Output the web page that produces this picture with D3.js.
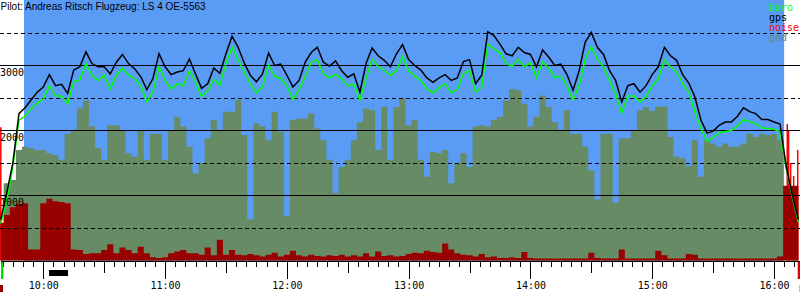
<!DOCTYPE html>
<html><head><meta charset="utf-8">
<script src="https://cdn.jsdelivr.net/npm/d3@7"></script>
<style>body{margin:0;background:#fff}svg{display:block}</style>
</head><body><svg id="c" width="800" height="300"></svg>
<script>
const times = ["09:39","09:42","09:45","09:48","09:51","09:54","09:57",
"10:00","10:03","10:06","10:09","10:12","10:15","10:18","10:21","10:24","10:27","10:30","10:33","10:36","10:39","10:42","10:45","10:48","10:51","10:54","10:57",
"11:00","11:03","11:06","11:09","11:12","11:15","11:18","11:21","11:24","11:27","11:30","11:33","11:36","11:39","11:42","11:45","11:48","11:51","11:54","11:57",
"12:00","12:03","12:06","12:09","12:12","12:15","12:18","12:21","12:24","12:27","12:30","12:33","12:36","12:39","12:42","12:45","12:48","12:51","12:54","12:57",
"13:00","13:03","13:06","13:09","13:12","13:15","13:18","13:21","13:24","13:27","13:30","13:33","13:36","13:39","13:42","13:45","13:48","13:51","13:54","13:57",
"14:00","14:03","14:06","14:09","14:12","14:15","14:18","14:21","14:24","14:27","14:30","14:33","14:36","14:39","14:42","14:45","14:48","14:51","14:54","14:57",
"15:00","15:03","15:06","15:09","15:12","15:15","15:18","15:21","15:24","15:27","15:30","15:33","15:36","15:39","15:42","15:45","15:48","15:51","15:54","15:57",
"16:00","16:03","16:06","16:09","16:12"];
const gps = [630,1040,1500,2260,2350,2470,2590,
2670,2860,2690,2710,2570,2930,2980,3210,3030,2980,2980,2870,3050,3170,3030,2950,2830,2630,2800,3180,
2980,2860,2900,2920,3100,2870,2650,2720,2960,2880,3180,3450,3280,3040,2850,2750,2870,3190,3000,3020,
2850,2670,2770,3050,3200,3280,3050,2990,3070,2920,2820,2870,2590,3030,3270,3150,3080,2980,3180,3320,
3090,3000,2930,2810,2740,2810,2860,2770,2810,3060,3090,2720,2850,3520,3460,3330,3180,3150,3280,3200,
3170,2980,3240,3130,3000,3020,2860,2620,2920,3360,3510,3280,3170,2920,2770,2440,2690,2720,2590,2690,
2860,2980,3280,3150,3080,2860,2730,2520,2160,1960,1990,2080,2130,2130,2220,2350,2290,2260,2170,2170,
2130,2100,1450,1010,630];
const baro = [570,910,1440,2160,2220,2340,2420,
2480,2690,2530,2530,2410,2750,2780,3030,2850,2770,2850,2640,2850,2960,2850,2800,2690,2440,2590,2980,
2770,2640,2720,2690,2920,2750,2520,2610,2790,2700,3030,3280,3090,2900,2720,2580,2680,3000,2830,2800,
2690,2480,2630,2820,3050,3090,2870,2810,2860,2800,2690,2710,2470,2800,3100,2980,2920,2850,2920,3140,
2920,2840,2770,2640,2580,2660,2720,2580,2630,2880,2920,2590,2670,3330,3260,3200,3030,2990,3090,2980,
3040,2810,3050,2960,2820,2830,2690,2470,2690,3100,3290,3090,2980,2760,2560,2270,2530,2530,2440,2520,
2690,2800,3080,2980,2900,2720,2590,2290,2030,1840,1890,1970,1980,2000,2070,2170,2130,2110,2040,2030,
2020,1980,1420,980,590];
const gnd = [500,1190,1240,1700,1750,1730,1700,
1700,1650,1620,1550,1950,2000,2340,2460,2060,1730,1550,2080,2080,2000,1650,1600,2000,1550,1950,1950,
1550,2000,2210,2060,1750,1340,1500,1880,2160,2010,2290,2290,2470,1930,630,2110,2060,1850,2290,1980,
680,2160,2180,2180,2260,2030,1850,1550,1040,1440,1550,1850,2130,2340,2310,1700,2360,1550,2360,2490,
2080,2160,1550,1290,1670,1650,1700,1190,1500,1650,1440,2060,2080,2060,2160,2210,2460,2640,2620,2410,
2060,2210,2540,2360,2130,2010,2310,1950,1950,1750,1390,940,1950,1950,890,1880,1880,2000,2310,2360,
2300,2370,2370,1900,1600,1570,1450,1850,1290,1850,1800,1750,1800,1750,1750,1800,1950,1900,1950,1930,
1950,1850,1000,1000,1000];
const noise = [580,700,820,870,880,170,170,
880,950,910,900,880,170,160,100,110,110,160,250,110,200,160,110,210,110,50,40,
50,110,140,160,110,110,90,200,80,320,90,160,90,80,100,80,60,90,120,60,
90,150,80,60,90,70,60,80,70,90,60,80,60,110,60,140,70,80,60,70,
100,120,110,150,130,120,260,170,110,90,80,60,100,50,60,40,40,50,40,130,
40,30,30,30,30,30,30,30,30,30,120,40,30,30,30,170,30,30,30,30,
30,150,80,30,30,30,100,90,30,30,30,30,30,30,30,30,30,30,30,30,
30,60,1150,1150,1150];
const groundNoiseTimes = ["09:38:42","16:06:10","16:06:50","16:07:50","16:09:20","16:11:20"];
const groundNoise = [2050,2100,2000,1500,1300,1700];
const flight = ["09:50:30","16:05:00"];
const towTimes = ["10:02:50","10:12:10"];
const startMark = "09:39:10", endMark = "16:11:42";
const altMajor = [1000,2000,3000];
const altMinor = [500,1500,2500,3500];
const hourTicks = ["10:00","11:00","12:00","13:00","14:00","15:00","16:00"];
const halfTicks = ["10:30","11:30","12:30","13:30","14:30","15:30"];
const title = "Pilot: Andreas Ritsch Flugzeug: LS 4 OE-5563";
const legend = ["baro","gps","noise","gnd"];
const legendColors = ["#00ff00","#000000","#ff0000","#678c65"];

const parse = s => { const p = s.split(":").map(Number); return p[0]*60 + p[1] + (p[2]||0)/60; };
const x = d3.scaleLinear().domain([parse("09:38:40"), parse("16:12:49")]).range([0, 800]);
const y = d3.scaleLinear().domain([0, 4000]).range([260.5, 0.5]);
const T = times.map(parse);
const svg = d3.select("#c");
const mono = "'DejaVu Sans Mono', monospace";

svg.append("rect").attr("x", x(parse(flight[0]))).attr("y", 0)
  .attr("width", x(parse(flight[1])) - x(parse(flight[0]))).attr("height", 261).attr("fill", "#5a9bf5");

const area = vals => d3.area().x((d,i)=>x(T[i])).y0(y(0)).y1(d=>y(d)).curve(d3.curveStep)(vals);
svg.append("path").attr("d", area(gnd)).attr("fill", "#678c65");
svg.selectAll(".gn").data(groundNoise).join("rect").attr("class","gn")
  .attr("x",(d,i)=>x(parse(groundNoiseTimes[i]))).attr("width",1.5)
  .attr("y",d=>y(d)).attr("height",d=>y(0)-y(d)).attr("fill","#ff0000");
svg.append("path").attr("d", area(noise)).attr("fill", "#990000");

svg.selectAll(".gmaj").data(altMajor).join("line").attr("class","gmaj")
  .attr("x1",0).attr("x2",800).attr("y1",d=>Math.floor(y(d))+0.5).attr("y2",d=>Math.floor(y(d))+0.5)
  .attr("stroke","#000").attr("stroke-width",1).attr("shape-rendering","crispEdges");
svg.selectAll(".gmin").data(altMinor).join("line").attr("class","gmin")
  .attr("x1",0).attr("x2",800).attr("y1",d=>Math.floor(y(d))+0.5).attr("y2",d=>Math.floor(y(d))+0.5)
  .attr("stroke","#000").attr("stroke-width",1).attr("stroke-dasharray","4,3").attr("shape-rendering","crispEdges");

const line = vals => d3.line().x((d,i)=>x(T[i])).y(d=>y(d))(vals);
svg.append("path").attr("d", line(baro)).attr("fill","none").attr("stroke","#00ff00").attr("stroke-width",1.5);
svg.append("path").attr("d", line(gps)).attr("fill","none").attr("stroke","#000").attr("stroke-width",1.5);

svg.selectAll(".yl").data(altMajor).join("text").attr("class","yl")
  .attr("x",0).attr("y",d=>y(d)+10.5).text(d=>d)
  .attr("font-family",mono).attr("font-size",10).attr("fill","#000");

// time axes
const fmt = m => `${Math.floor(m/60)}:${String(Math.round(m%60)).padStart(2,"0")}`;
const ax = svg.append("g").attr("transform","translate(0,261)");
ax.append("g").call(d3.axisBottom(x).tickValues(d3.range(580, 975, 5)).tickSize(6).tickSizeOuter(0).tickFormat(""));
ax.append("g").call(d3.axisBottom(x).tickValues(halfTicks.map(parse)).tickSize(12).tickFormat("")).select(".domain").remove();
const hg = ax.append("g").call(d3.axisBottom(x).tickValues(hourTicks.map(parse)).tickSize(18).tickFormat(fmt));
hg.select(".domain").remove();
ax.selectAll("text").attr("font-family",mono).attr("font-size",10).attr("fill","#000");
ax.selectAll("line,path").attr("stroke","#000").attr("shape-rendering","crispEdges");

// markers
svg.append("rect").attr("x",x(parse(startMark))).attr("y",262).attr("width",2.3).attr("height",17).attr("fill","#00dd00");
svg.append("rect").attr("x",x(parse(endMark))).attr("y",262).attr("width",3).attr("height",17).attr("fill","#dd0000");
svg.append("rect").attr("x",x(parse("09:38:40"))).attr("y",285).attr("width",3).attr("height",7).attr("fill","#990000");
svg.append("rect").attr("x",x(parse("16:12:40"))).attr("y",285).attr("width",2).attr("height",7).attr("fill","#990000");
svg.append("rect").attr("x",x(parse(towTimes[0]))).attr("y",270)
  .attr("width",x(parse(towTimes[1]))-x(parse(towTimes[0]))).attr("height",6).attr("fill","#000");

svg.append("text").attr("x",0.5).attr("y",10).text(title)
  .attr("font-family","'Liberation Sans', Arial, sans-serif").attr("font-size",10).attr("fill","#000");

svg.selectAll(".lg").data(legend).join("text").attr("class","lg")
  .attr("x",769).attr("y",(d,i)=>10.5+i*10).text(d=>d)
  .attr("font-family",mono).attr("font-size",10).attr("fill",(d,i)=>legendColors[i]);
</script></body></html>
